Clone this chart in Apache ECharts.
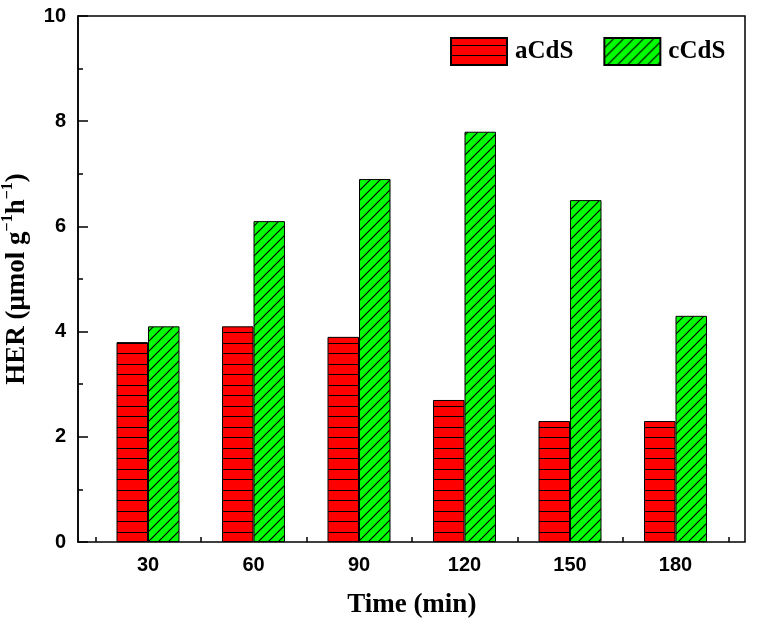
<!DOCTYPE html>
<html><head><meta charset="utf-8">
<script src="https://cdn.jsdelivr.net/npm/echarts@6/dist/echarts.min.js"></script>
<style>html,body{margin:0;padding:0;background:#fff}#c{width:758px;height:624px}</style>
</head><body><div id="c"></div>
<script>
var categories = ['30', '60', '90', '120', '150', '180'];
var aCdS = [3.8, 4.1, 3.9, 2.7, 2.3, 2.3];
var cCdS = [4.1, 6.1, 6.9, 7.8, 6.5, 4.3];
var yTicks = [0, 2, 4, 6, 8, 10];

function hPattern() {
  var c = document.createElement('canvas');
  c.width = 8; c.height = 21;
  var g = c.getContext('2d');
  g.fillStyle = '#ff0000'; g.fillRect(0, 0, 8, 21);
  g.strokeStyle = '#000'; g.lineWidth = 1;
  g.beginPath(); g.moveTo(0, 7.5); g.lineTo(8, 7.5); g.moveTo(0, 17.5); g.lineTo(8, 17.5); g.stroke();
  return c;
}
function dPattern() {
  var s = 10;
  var c = document.createElement('canvas');
  c.width = s; c.height = s;
  var g = c.getContext('2d');
  g.fillStyle = '#00ff00'; g.fillRect(0, 0, s, s);
  g.strokeStyle = '#000'; g.lineWidth = 1.2;
  g.beginPath();
  g.moveTo(-1, s + 1); g.lineTo(s + 1, -1);
  g.moveTo(-1, 1); g.lineTo(1, -1);
  g.moveTo(s - 1, s + 1); g.lineTo(s + 1, s - 1);
  g.stroke();
  return c;
}

var chart = echarts.init(document.getElementById('c'), null, {renderer: 'canvas'});
var labelFont = {fontFamily: 'Liberation Sans, Arial', fontWeight: 'bold', fontSize: 20, color: '#000'};
var serif = 'Liberation Serif, Times New Roman';
var nameFont = {fontFamily: serif, fontWeight: 'bold', fontSize: 27, color: '#000'};

chart.setOption({
  animation: false,
  backgroundColor: '#fff',
  grid: [
    {left: 78, top: 16, width: 667, height: 526, show: true, borderColor: '#000', borderWidth: 1.5, backgroundColor: 'transparent', containLabel: false, outerBoundsMode: 'none'},
    {left: 95.25, top: 16, width: 633, height: 526, containLabel: false, outerBoundsMode: 'none'}
  ],
  legend: {
    data: ['aCdS', 'cCdS'],
    left: 445, top: 32,
    itemWidth: 56, itemHeight: 27, itemGap: 30,
    icon: 'rect',
    textStyle: {fontFamily: serif, fontWeight: 'bold', fontSize: 25, color: '#000', padding: [0, 0, 0, 3]}
  },
  xAxis: [
    {type: 'value', gridIndex: 0, min: 0, max: 1, show: false},
    {type: 'category', gridIndex: 1, data: categories,
     axisLine: {show: false},
     axisTick: {show: true, inside: true, length: 5, alignWithLabel: false, lineStyle: {color: '#000', width: 1.5}},
     axisLabel: Object.assign({margin: 13}, labelFont),
     name: 'Time (min)', nameLocation: 'middle', nameGap: 50, nameTextStyle: nameFont}
  ],
  yAxis: [
    {type: 'value', gridIndex: 0, min: yTicks[0], max: yTicks[yTicks.length - 1], interval: 2,
     axisLine: {show: true, lineStyle: {color: '#000', width: 1.5}},
     axisTick: {show: true, inside: true, length: 10, lineStyle: {color: '#000', width: 1.5}},
     minorTick: {show: true, splitNumber: 2, length: 5, lineStyle: {color: '#000', width: 1.5}},
     splitLine: {show: false},
     axisLabel: Object.assign({margin: 12}, labelFont),
     name: '{a|HER (μmol g}{s|−1}{a|h}{s|−1}{a|)}', nameLocation: 'middle', nameGap: 44, nameRotate: 90,
     nameTextStyle: {
       rich: {
         a: {fontFamily: serif, fontWeight: 'bold', fontSize: 27, color: '#000', verticalAlign: 'middle', lineHeight: 34},
         s: {fontFamily: serif, fontWeight: 'bold', fontSize: 16, color: '#000', verticalAlign: 'top', lineHeight: 16}
       }
     }},
    {type: 'value', gridIndex: 1, min: 0, max: 10, interval: 2, show: false}
  ],
  series: [
    {name: 'aCdS', type: 'bar', xAxisIndex: 1, yAxisIndex: 1, data: aCdS, barWidth: 31.5, barGap: '0%',
     itemStyle: {color: {image: hPattern(), repeat: 'repeat'}, borderColor: '#000', borderWidth: 1}},
    {name: 'cCdS', type: 'bar', xAxisIndex: 1, yAxisIndex: 1, data: cCdS, barWidth: 31.5, barGap: '0%',
     itemStyle: {color: {image: dPattern(), repeat: 'repeat'}, borderColor: '#000', borderWidth: 1}}
  ]
});
</script>
</body></html>
